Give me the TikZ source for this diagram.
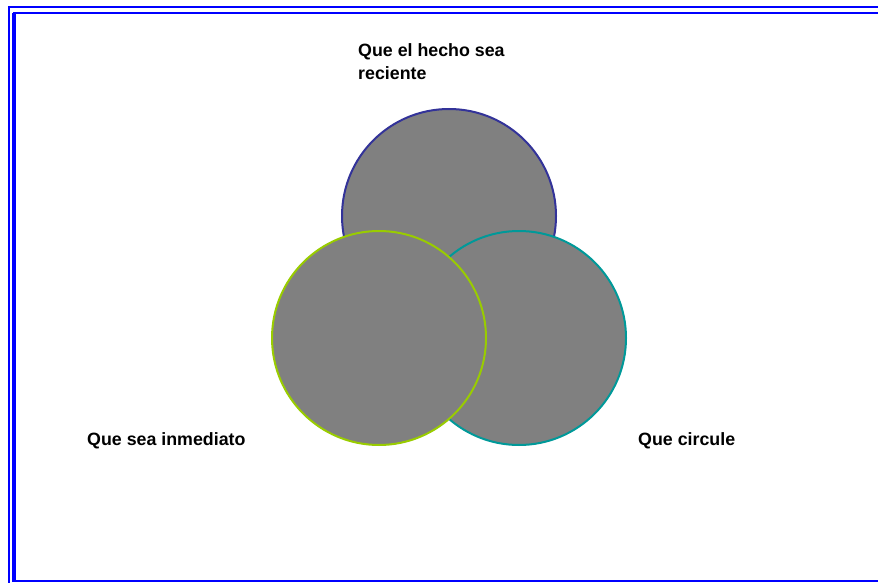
\documentclass[tikz,border=0pt]{standalone}
\usepackage{fontspec}
\setmainfont{Liberation Sans}
\definecolor{framblue}{HTML}{0000FF}
\definecolor{navyc}{HTML}{333399}
\definecolor{limec}{HTML}{99CC00}
\definecolor{tealc}{HTML}{009999}
\definecolor{fillg}{HTML}{808080}
\tikzset{
  venn/.style={fill=fillg, line width=2pt},
  lbl/.style={font=\fontsize{17.8}{23}\selectfont\bfseries, inner sep=0pt, anchor=west, align=left},
  frameline/.style={draw=framblue, line width=2.4pt}
}
\begin{document}
\begin{tikzpicture}[x=1pt,y=-1pt]
\useasboundingbox (0,0) rectangle (878,583);
\begin{scope}
\clip (0,0) rectangle (878,583);
\draw[frameline] (9,7) rectangle (890,595);
\draw[frameline] (14,13) rectangle (885,581);
\draw[draw=framblue, line width=4.4pt] (14,13) -- (14,582);
\end{scope}
\node[venn, draw=navyc, circle, minimum size=214pt, inner sep=0pt] (top) at (449,216) {};
\node[venn, draw=tealc, circle, minimum size=214pt, inner sep=0pt] (right) at (519,338) {};
\node[venn, draw=limec, circle, minimum size=214pt, inner sep=0pt] (left) at (379,338) {};
\node[lbl] (ttop) at (358,62) {Que el hecho sea\\reciente};
\node[lbl] (tleft) at (87,441) {Que sea inmediato};
\node[lbl] (tright) at (638,441) {Que circule};
\end{tikzpicture}
\end{document}
